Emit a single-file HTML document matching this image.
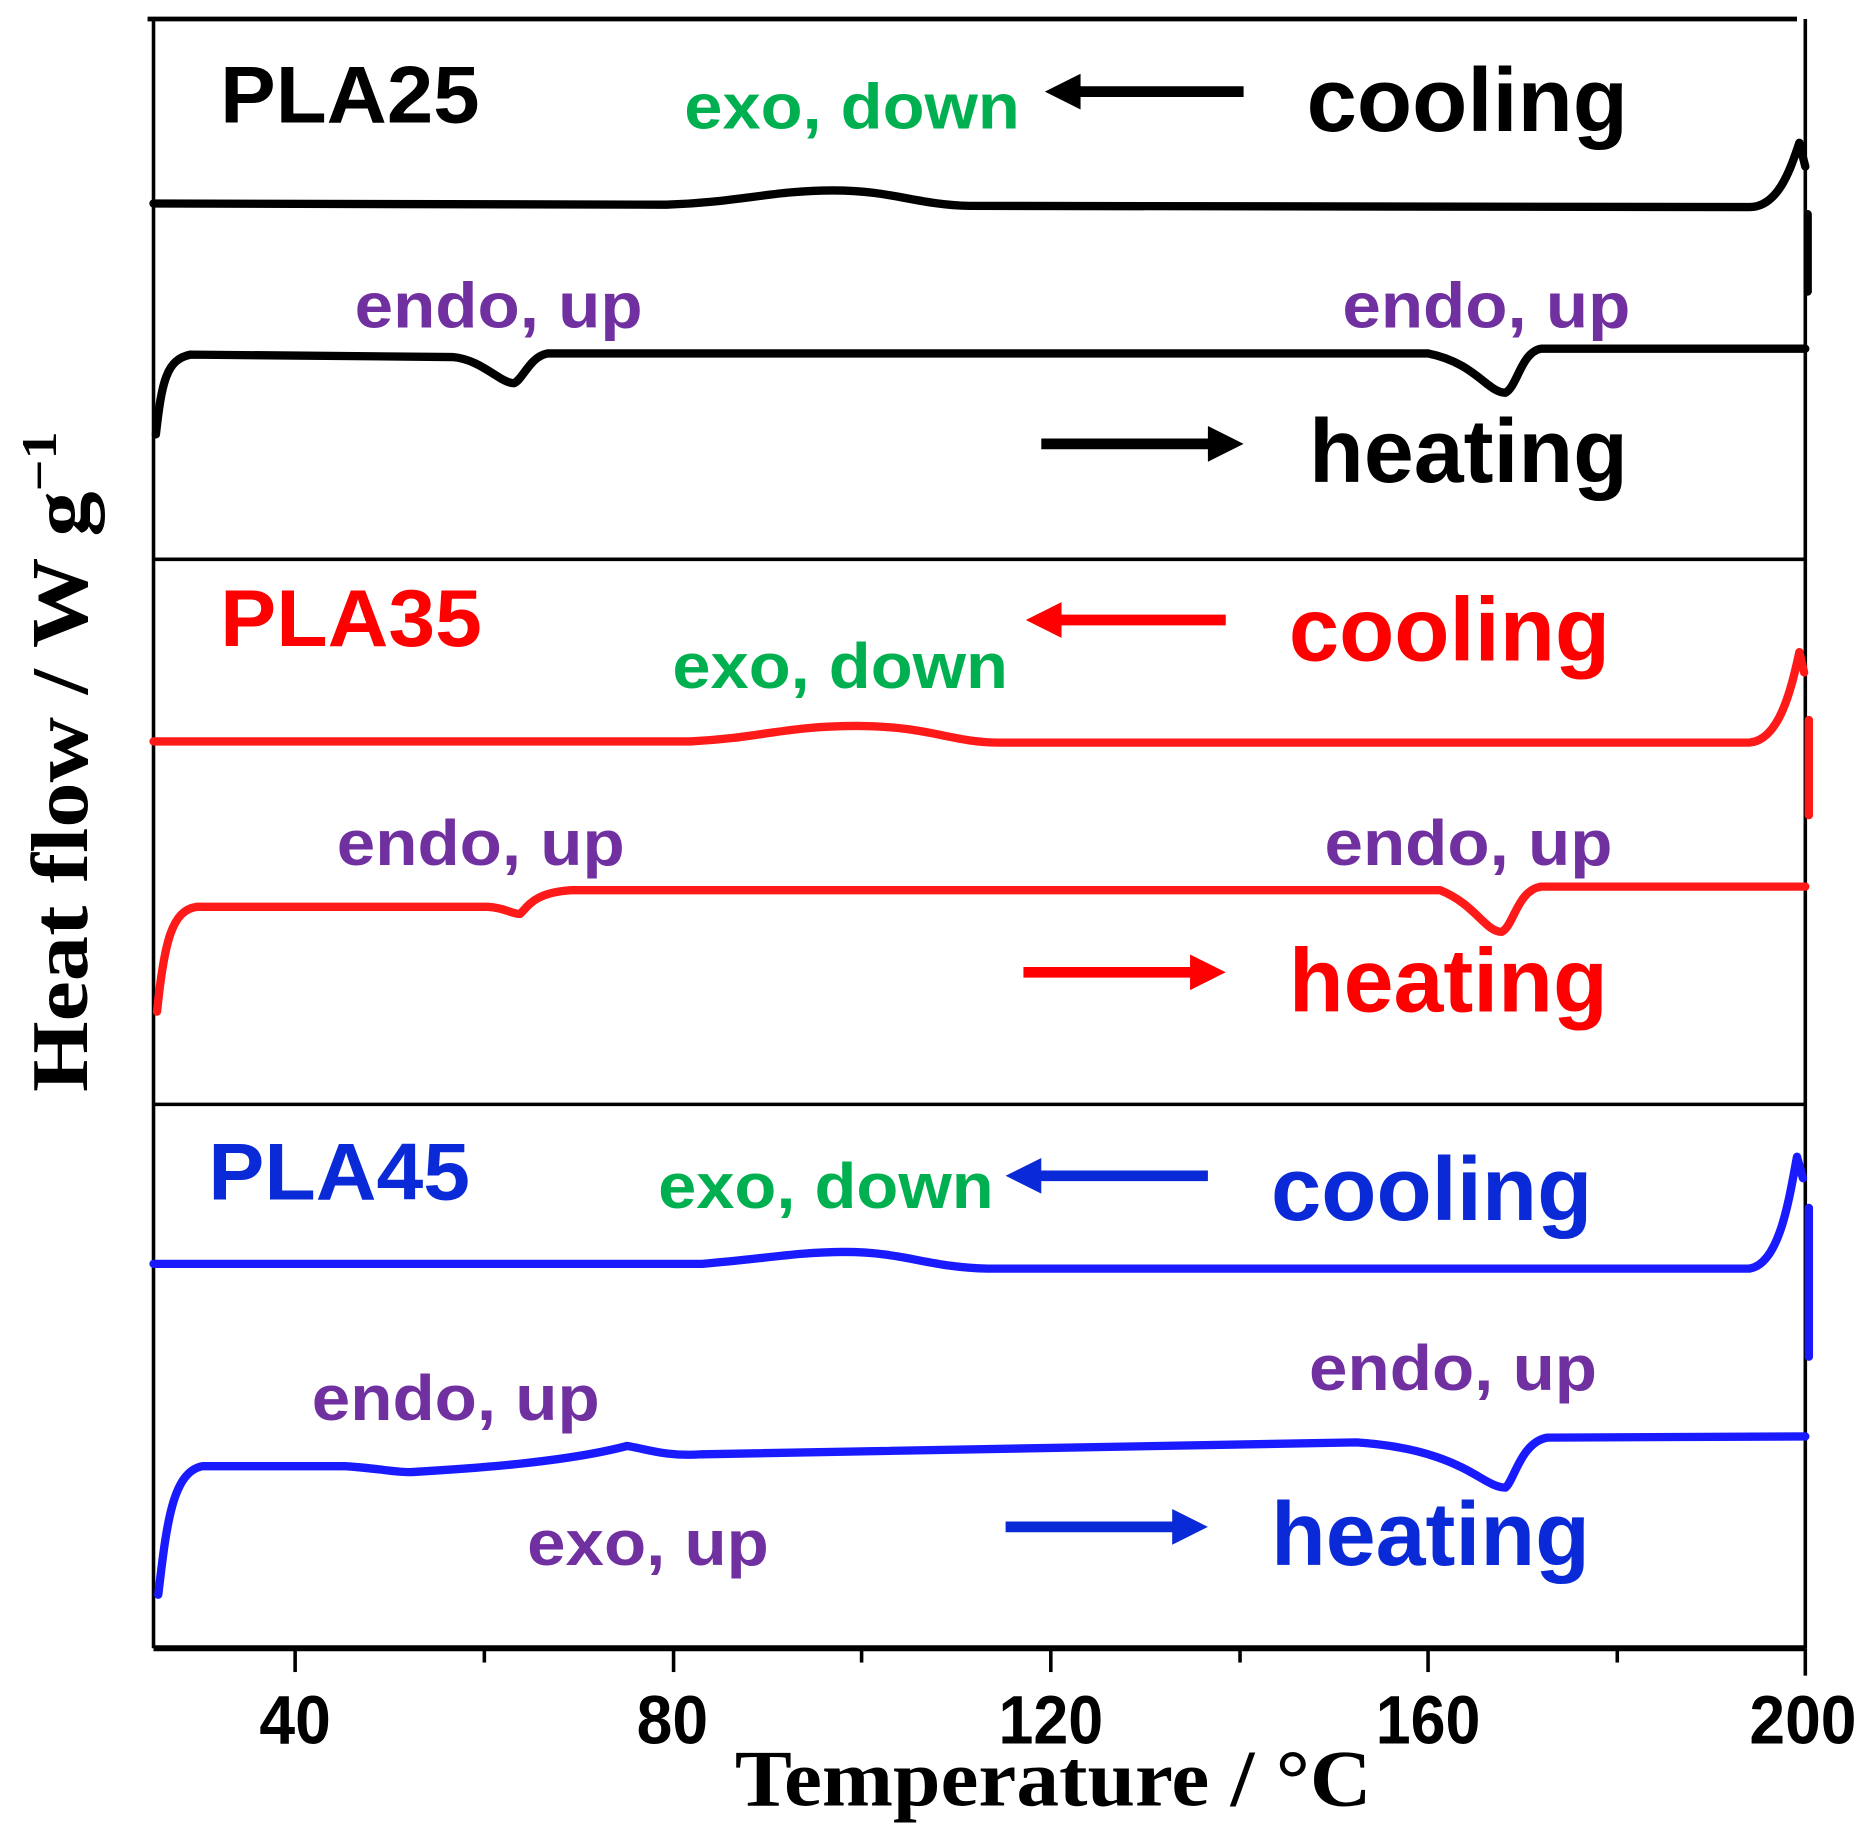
<!DOCTYPE html>
<html><head><meta charset="utf-8"><style>html,body{margin:0;padding:0;background:#fff}svg{display:block}</style></head>
<body>
<svg width="1866" height="1847" viewBox="0 0 1568 1552" preserveAspectRatio="none" xmlns="http://www.w3.org/2000/svg">
<rect width="1568" height="1552" fill="#fff"/>
<g stroke="#000" fill="none">
<line x1="124" y1="16" x2="1510" y2="16" stroke-width="4"/>
<line x1="129" y1="16" x2="129" y2="1385" stroke-width="3"/>
<line x1="1517" y1="16" x2="1517" y2="1385" stroke-width="3"/>
<line x1="129" y1="470" x2="1517" y2="470" stroke-width="3"/>
<line x1="129" y1="928" x2="1517" y2="928" stroke-width="3"/>
<line x1="129" y1="1385" x2="1517" y2="1385" stroke-width="5"/>
<g stroke-width="3">
<line x1="248" y1="1385" x2="248" y2="1405"/>
<line x1="407" y1="1385" x2="407" y2="1397"/>
<line x1="566" y1="1385" x2="566" y2="1405"/>
<line x1="724" y1="1385" x2="724" y2="1397"/>
<line x1="883" y1="1385" x2="883" y2="1405"/>
<line x1="1042" y1="1385" x2="1042" y2="1397"/>
<line x1="1200" y1="1385" x2="1200" y2="1405"/>
<line x1="1359" y1="1385" x2="1359" y2="1397"/>
<line x1="1517" y1="1385" x2="1517" y2="1408"/>
</g>
</g>
<g font-family="Liberation Sans, Arial, sans-serif" font-weight="bold" font-size="58" text-anchor="middle" fill="#000">
<text x="248" y="1465" textLength="60" lengthAdjust="spacingAndGlyphs">40</text>
<text x="565" y="1465" textLength="60" lengthAdjust="spacingAndGlyphs">80</text>
<text x="883" y="1465" textLength="88" lengthAdjust="spacingAndGlyphs">120</text>
<text x="1200" y="1465" textLength="88" lengthAdjust="spacingAndGlyphs">160</text>
<text x="1515" y="1465" textLength="90" lengthAdjust="spacingAndGlyphs">200</text>
</g>
<text x="885" y="1517" font-family="Liberation Serif, serif" font-weight="bold" font-size="68" text-anchor="middle" textLength="535" lengthAdjust="spacingAndGlyphs">Temperature / °C</text>
<text transform="translate(73,640) rotate(-90)" font-family="Liberation Serif, serif" font-weight="bold" font-size="68" text-anchor="middle" textLength="555" lengthAdjust="spacingAndGlyphs">Heat flow / W g<tspan font-size="42" dy="-26">−1</tspan></text>

<g fill="none" stroke-width="7" stroke-linejoin="round" stroke-linecap="round">
<path stroke="#000" d="M129,171 L560,172 C620,170 650,160 700,160 C750,160 770,172 815,173 L1470,174 C1495,174 1505,140 1512,120 L1517,140 M1519,180 L1519,245"/>
<path stroke="#000" d="M131,365 C136,320 140,302 160,298 L380,300 C405,302 420,322 432,322 C440,318 445,300 460,297 L1200,297 C1240,305 1250,330 1265,330 C1275,325 1278,296 1295,293 L1517,293"/>
<path stroke="#ff1a1a" d="M129,623 L580,623 C640,620 660,610 720,610 C780,610 800,624 840,624 L1470,624 C1495,622 1505,580 1512,548 L1516,565 M1520,605 L1520,685"/>
<path stroke="#ff1a1a" d="M132,850 C138,790 145,765 165,762 L410,762 C425,763 430,768 437,768 C445,760 450,750 480,748 L1210,748 C1240,760 1248,783 1262,783 C1272,778 1275,748 1295,745 L1517,745"/>
<path stroke="#1a1aff" d="M129,1062 L590,1062 C640,1058 670,1052 710,1052 C760,1052 780,1065 830,1066 L1470,1066 C1495,1062 1503,1010 1510,972 L1515,990 M1520,1015 L1520,1140"/>
<path stroke="#1a1aff" d="M133,1340 C140,1280 145,1237 170,1232 L290,1232 C320,1234 330,1237 345,1237 C380,1235 470,1230 527,1215 C545,1218 560,1224 590,1222 L1140,1212 C1230,1218 1245,1250 1265,1250 C1272,1245 1278,1212 1300,1208 L1517,1207"/>
</g>

<g font-family="Liberation Sans, Arial, sans-serif" font-weight="bold">
<text x="185" y="103" font-size="68" fill="#000" textLength="218" lengthAdjust="spacingAndGlyphs">PLA25</text>
<text x="575" y="108" font-size="54" fill="#00b050" textLength="282" lengthAdjust="spacingAndGlyphs">exo, down</text>
<text x="1098" y="110" font-size="76" fill="#000" textLength="270" lengthAdjust="spacingAndGlyphs">cooling</text>
<text x="298" y="275" font-size="54" fill="#7030a0" textLength="242" lengthAdjust="spacingAndGlyphs">endo, up</text>
<text x="1128" y="275" font-size="54" fill="#7030a0" textLength="242" lengthAdjust="spacingAndGlyphs">endo, up</text>
<text x="1100" y="405" font-size="76" fill="#000" textLength="268" lengthAdjust="spacingAndGlyphs">heating</text>

<text x="185" y="543" font-size="68" fill="#ff0000" textLength="220" lengthAdjust="spacingAndGlyphs">PLA35</text>
<text x="565" y="578" font-size="54" fill="#00b050" textLength="282" lengthAdjust="spacingAndGlyphs">exo, down</text>
<text x="1083" y="555" font-size="76" fill="#ff0000" textLength="270" lengthAdjust="spacingAndGlyphs">cooling</text>
<text x="283" y="727" font-size="54" fill="#7030a0" textLength="242" lengthAdjust="spacingAndGlyphs">endo, up</text>
<text x="1113" y="727" font-size="54" fill="#7030a0" textLength="242" lengthAdjust="spacingAndGlyphs">endo, up</text>
<text x="1083" y="850" font-size="76" fill="#ff0000" textLength="268" lengthAdjust="spacingAndGlyphs">heating</text>

<text x="175" y="1008" font-size="68" fill="#0a2ad8" textLength="220" lengthAdjust="spacingAndGlyphs">PLA45</text>
<text x="553" y="1015" font-size="54" fill="#00b050" textLength="282" lengthAdjust="spacingAndGlyphs">exo, down</text>
<text x="1068" y="1025" font-size="76" fill="#0a2ad8" textLength="270" lengthAdjust="spacingAndGlyphs">cooling</text>
<text x="262" y="1193" font-size="54" fill="#7030a0" textLength="242" lengthAdjust="spacingAndGlyphs">endo, up</text>
<text x="1100" y="1168" font-size="54" fill="#7030a0" textLength="242" lengthAdjust="spacingAndGlyphs">endo, up</text>
<text x="443" y="1315" font-size="54" fill="#7030a0" textLength="203" lengthAdjust="spacingAndGlyphs">exo, up</text>
<text x="1068" y="1315" font-size="76" fill="#0a2ad8" textLength="268" lengthAdjust="spacingAndGlyphs">heating</text>
</g>

<g stroke-width="9">
<line x1="1045" y1="77" x2="905" y2="77" stroke="#000"/>
<polygon points="878,77 908,62 908,92" fill="#000"/>
<line x1="875" y1="373" x2="1018" y2="373" stroke="#000"/>
<polygon points="1045,373 1015,358 1015,388" fill="#000"/>
<line x1="1030" y1="521" x2="888" y2="521" stroke="#ff0000"/>
<polygon points="862,521 892,506 892,536" fill="#ff0000"/>
<line x1="860" y1="817" x2="1003" y2="817" stroke="#ff0000"/>
<polygon points="1030,817 1000,802 1000,832" fill="#ff0000"/>
<line x1="1015" y1="988" x2="871" y2="988" stroke="#0a2ad8"/>
<polygon points="845,988 875,973 875,1003" fill="#0a2ad8"/>
<line x1="845" y1="1283" x2="988" y2="1283" stroke="#0a2ad8"/>
<polygon points="1015,1283 985,1268 985,1298" fill="#0a2ad8"/>
</g>
</svg>
</body></html>
